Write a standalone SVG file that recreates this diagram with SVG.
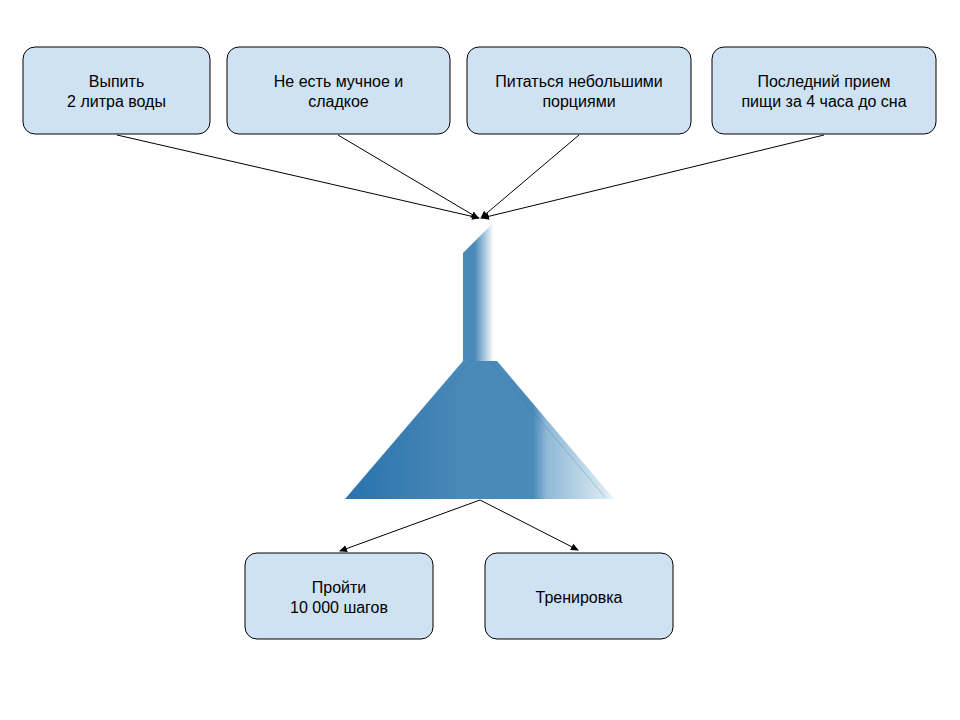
<svg xmlns="http://www.w3.org/2000/svg" width="960" height="720" viewBox="0 0 960 720">
<style>
.box{fill:#cfe2f3;stroke:#000;stroke-width:1}
.t{font-family:"Liberation Sans",Arial,sans-serif;font-size:16px;fill:#000;text-anchor:middle}
.c{stroke:#000;stroke-width:1;fill:none;marker-end:url(#a)}
</style>
<defs>
<marker id="a" markerWidth="8" markerHeight="8" refX="7" refY="4" orient="auto" markerUnits="userSpaceOnUse"><path d="M0,0.5 L8,4 L0,7.5 Z" fill="#000"/></marker>
<linearGradient id="g1" x1="0" y1="0" x2="1" y2="0">
<stop offset="0" stop-color="#2a72ad"/><stop offset="0.45" stop-color="#4a8ab8"/><stop offset="0.7" stop-color="#4a8ab8"/><stop offset="0.75" stop-color="#8fb9d6"/><stop offset="1" stop-color="#e4f0f6"/>
</linearGradient>
<linearGradient id="g2" x1="0" y1="0" x2="1" y2="0">
<stop offset="0" stop-color="#4a8ab8"/><stop offset="0.35" stop-color="#4a8ab8"/><stop offset="0.9" stop-color="#ffffff"/><stop offset="1" stop-color="#ffffff"/>
</linearGradient>
</defs>
<g id="funnel">
<path d="M463,253 L494,222 L497,222 L497,361 L463,361 Z" fill="url(#g2)"/>
<path d="M463,361 L497,361 L614,499 L345,499 Z" fill="url(#g1)"/>
<path d="M470,361 L355,497 M490,361 L605,497" stroke="#2f6fa5" stroke-opacity="0.3" fill="none"/>
</g>
<g id="n1"><rect class="box" x="23" y="47" width="187" height="87" rx="12"/><text class="t" x="116.5" y="87">Выпить</text><text class="t" x="116.5" y="107">2 литра воды</text></g>
<g id="n2"><rect class="box" x="227" y="47" width="223" height="87" rx="12"/><text class="t" x="338.5" y="87">Не есть мучное и</text><text class="t" x="338.5" y="107">сладкое</text></g>
<g id="n3"><rect class="box" x="467" y="47" width="224" height="87" rx="12"/><text class="t" x="579" y="87">Питаться небольшими</text><text class="t" x="579" y="107">порциями</text></g>
<g id="n4"><rect class="box" x="712" y="47" width="224" height="87" rx="12"/><text class="t" x="824" y="87">Последний прием</text><text class="t" x="824" y="107">пищи за 4 часа до сна</text></g>
<g id="n5"><rect class="box" x="245" y="553" width="188" height="86" rx="12"/><text class="t" x="339" y="593">Пройти</text><text class="t" x="339" y="613">10 000 шагов</text></g>
<g id="n6"><rect class="box" x="485" y="553" width="188" height="86" rx="12"/><text class="t" x="579" y="603">Тренировка</text></g>
<g id="connectors">
<path class="c" d="M117,135 L479,218"/>
<path class="c" d="M338,135 L478,218"/>
<path class="c" d="M579,135 L481,218"/>
<path class="c" d="M824,135 L482,218"/>
<path class="c" d="M480,500 L340,551"/>
<path class="c" d="M480,500 L578,550"/>
</g>
</svg>
